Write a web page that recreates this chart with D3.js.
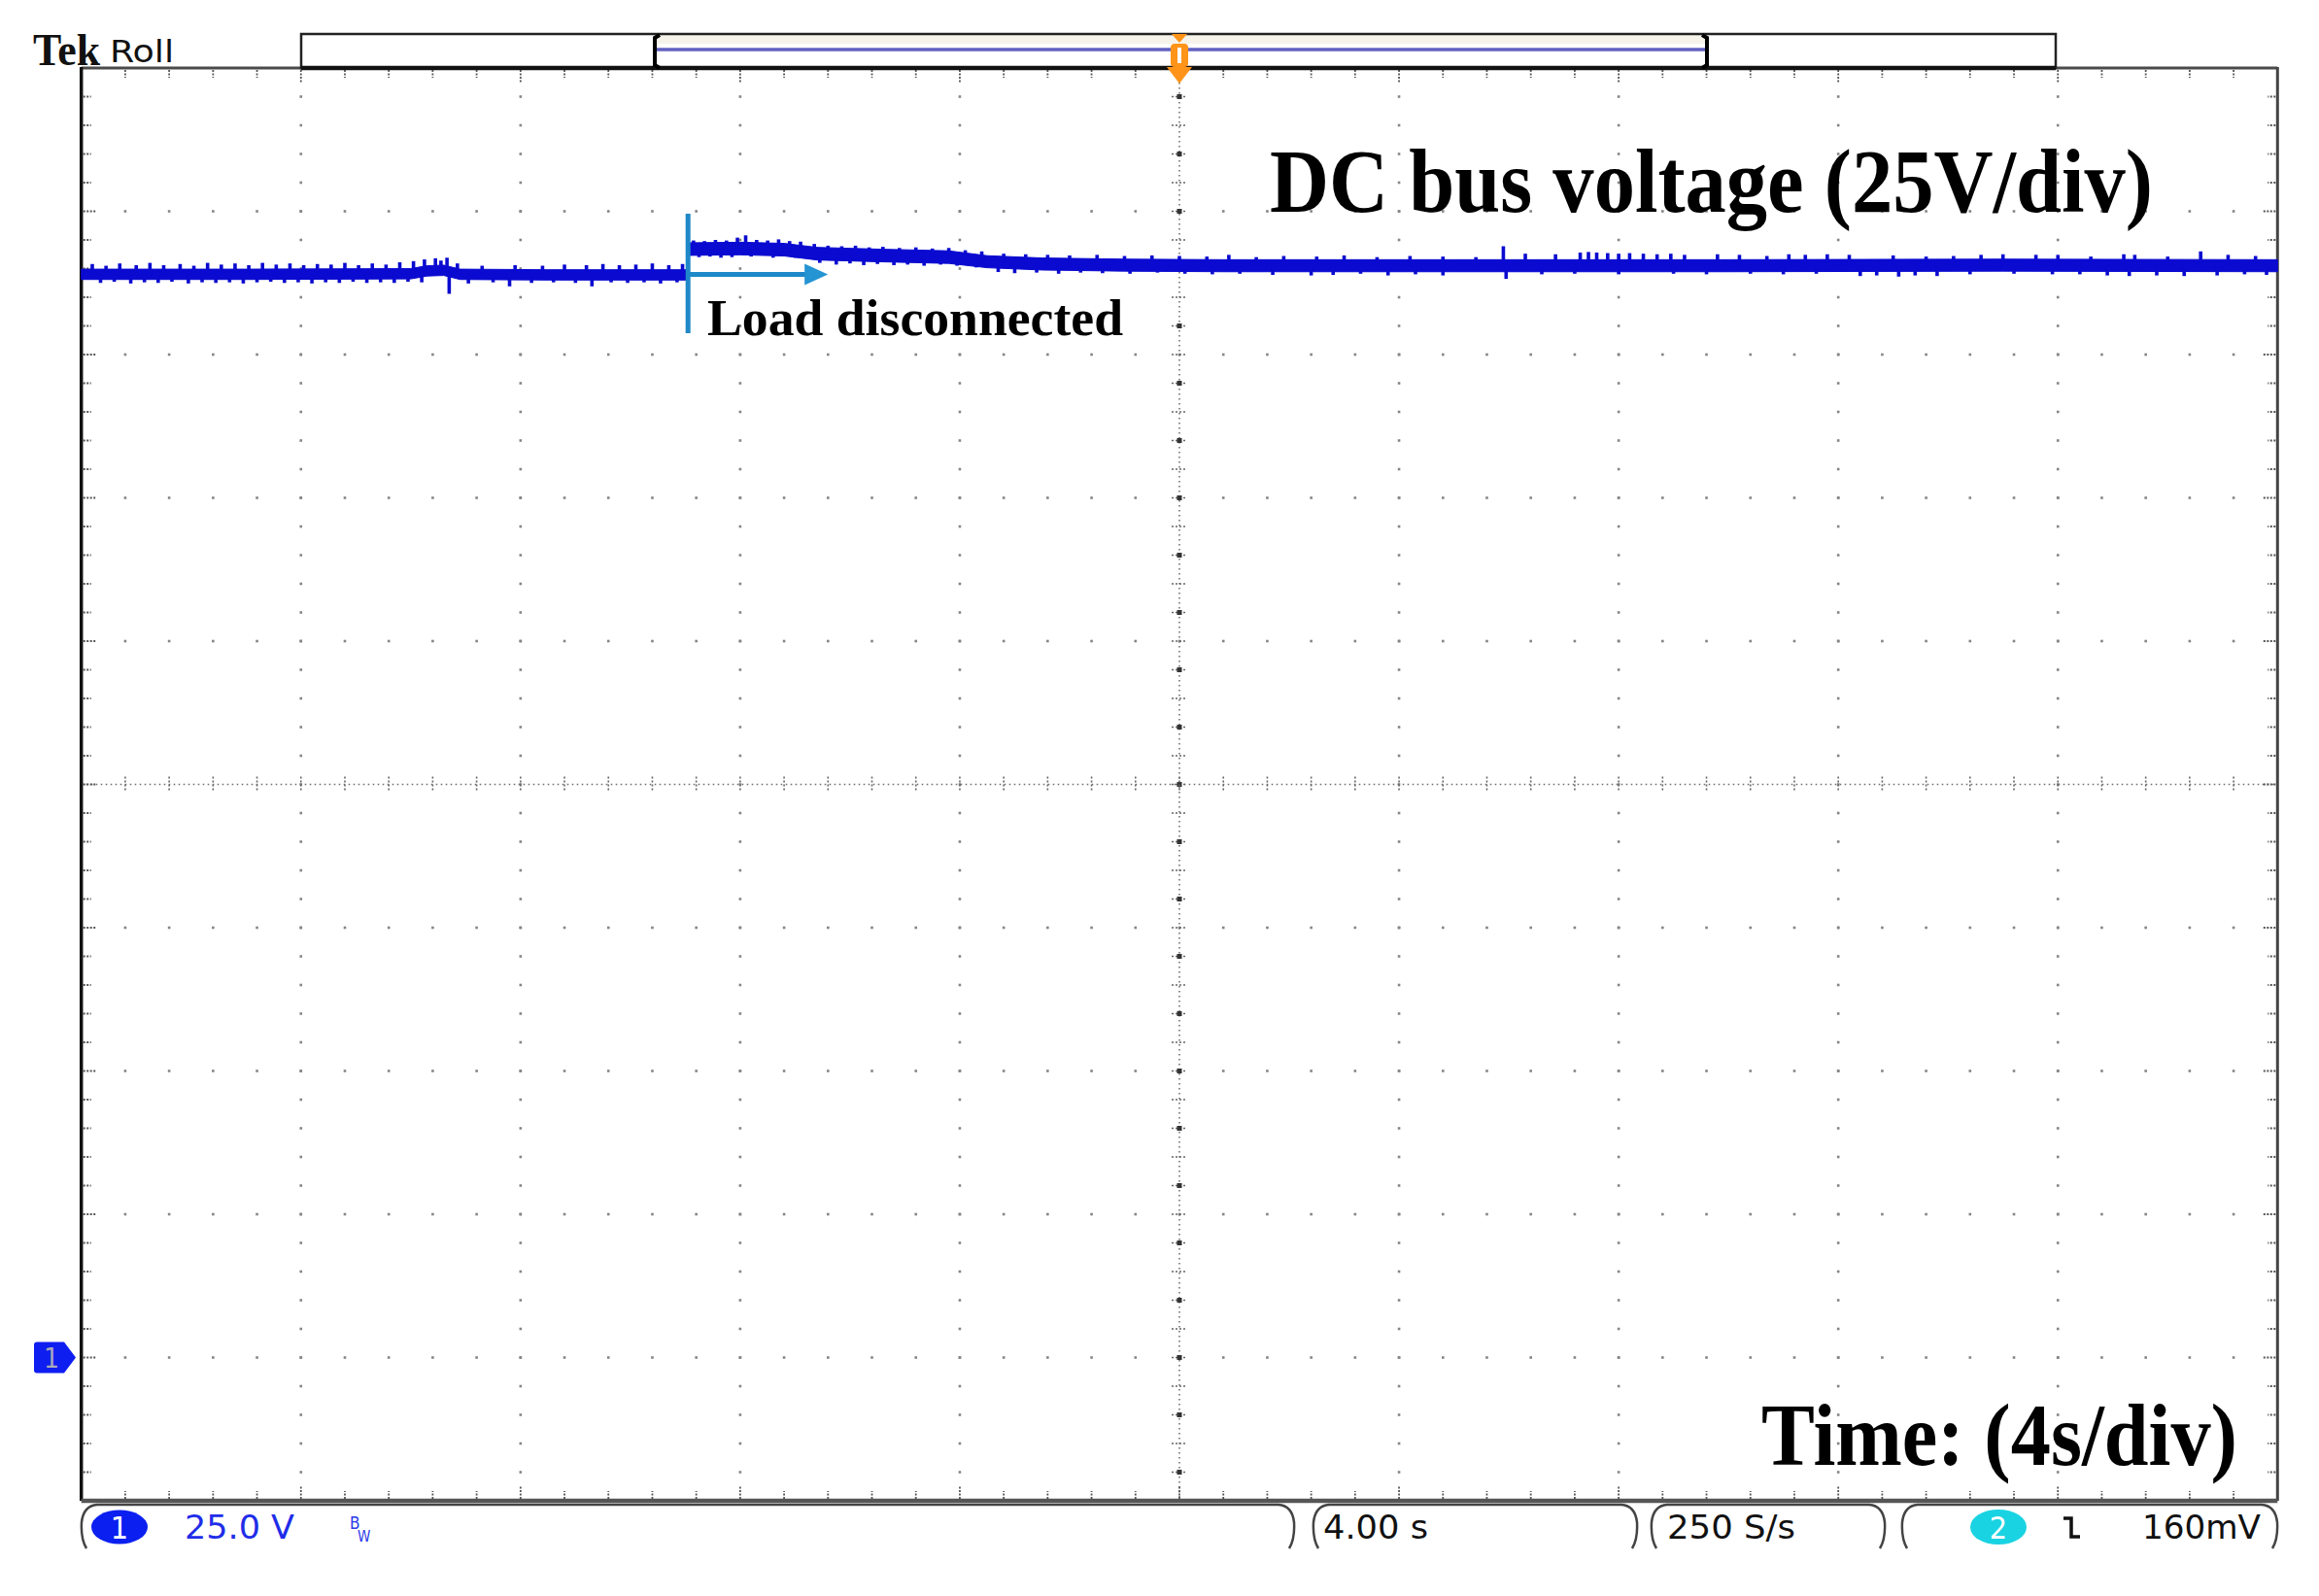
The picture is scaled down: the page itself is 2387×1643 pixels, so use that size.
<!DOCTYPE html>
<html><head><meta charset="utf-8">
<script src="https://cdn.jsdelivr.net/npm/d3@7"></script>
<style>html,body{margin:0;padding:0;background:#fff;overflow:hidden}svg{display:block}</style>
</head><body>
<svg id="c" width="2387" height="1643"></svg>
<script>
// ================= DATA =================
const timeDomain = [0, 40];            // s  (4 s/div, 10 div)
const voltDomain = [-25, 225];         // V  (25 V/div, ground 1 div above bottom)
const timePerDiv = 4, voltPerDiv = 25, minorPerDiv = 5;
const eventTime = 11.05;               // load disconnected

// trace envelope: time (s), lower (V), upper (V)
const traceT  = [0,     3,     6.0,   6.3,   6.6,   6.9,   8.5,   11.04, 11.06,  12.0,   12.8,   13.4,   14.5,   15.8,   16.5,   17.5,   19,     20.8,   25,     30,     35,     40];
const traceLo = [188.1, 188.1, 188.2, 188.7, 188.8, 188.1, 188.0, 188.0, 192.3,  192.4,  192.2,  191.5,  191.2,  190.9,  190.15, 189.75, 189.55, 189.45, 189.45, 189.45, 189.55, 189.45];
const traceHi = [189.9, 189.9, 190.0, 190.5, 190.6, 189.9, 189.8, 189.8, 194.5,  194.6,  194.4,  193.7,  193.4,  193.1,  192.25, 191.85, 191.65, 191.55, 191.55, 191.55, 191.65, 191.55];

// noise spikes: [time (s), peak (V)]
const upSpikes = [
  [0.2,190.8],[0.45,190.5],[0.7,190.9],[1.0,190.6],[1.25,191.0],[1.5,190.6],[1.8,190.8],[2.05,190.5],[2.3,191.0],[2.55,190.7],
  [2.8,190.9],[3.05,190.6],[3.3,191.0],[3.55,190.7],[3.8,190.9],[4.05,190.6],[4.3,190.8],[4.55,190.7],[4.8,191.0],[5.05,190.6],
  [5.3,190.9],[5.55,190.7],[5.8,191.1],[6.05,191.3],[6.25,191.6],[6.45,191.8],[6.55,191.4],[6.66,191.9],[6.85,190.9],[7.3,190.5],
  [7.9,190.6],[8.4,190.5],[8.8,190.7],[9.2,190.6],[9.5,190.8],[9.8,190.6],[10.1,190.7],[10.4,190.9],[10.7,190.6],[10.95,190.8],
  [11.15,194.9],[11.35,194.8],[11.55,195.0],[11.75,194.9],[11.95,195.4],[12.1,195.8],[12.3,195.0],[12.5,194.9],[12.7,195.1],[12.9,194.8],
  [13.1,194.7],[13.35,194.3],[13.6,194.0],[13.85,193.9],[14.1,194.0],[14.35,193.7],[14.6,193.8],[14.9,193.6],[15.2,193.7],[15.5,193.5],
  [15.8,193.6],[16.1,193.2],[16.4,193.0],[16.8,192.6],[17.2,192.5],[17.6,192.4],[18.0,192.3],[18.5,192.4],[19.0,192.2],[19.5,192.3],
  [20.0,192.2],[20.5,192.1],[20.9,192.4],[21.4,192.0],[21.9,192.2],[22.5,192.1],[23.0,192.3],[23.6,192.0],[24.2,192.2],[24.8,192.1],
  [25.4,192.0],[25.9,193.9],[26.3,192.6],[26.85,192.5],[27.3,192.8],[27.45,192.9],[27.6,192.8],[27.8,192.7],[28.0,192.6],[28.2,192.7],
  [28.45,192.6],[28.7,192.5],[28.95,192.6],[29.2,192.4],[29.8,192.5],[30.2,192.4],[30.7,192.2],[31.1,192.5],[31.4,192.4],[31.8,192.5],
  [32.2,192.4],[33.0,192.3],[33.6,192.1],[34.1,192.2],[34.6,192.4],[35.0,192.5],[35.6,192.4],[36.0,192.4],[36.6,192.1],[37.2,192.5],
  [37.4,192.4],[38.0,192.1],[38.6,193.0],[39.1,192.4],[39.6,192.2]
];
const downSpikes = [
  [0.35,187.5],[0.6,187.7],[0.9,187.4],[1.15,187.6],[1.4,187.5],[1.65,187.7],[1.95,187.4],[2.2,187.6],[2.45,187.5],[2.7,187.6],
  [2.95,187.4],[3.2,187.6],[3.45,187.7],[3.7,187.5],[3.95,187.6],[4.2,187.4],[4.45,187.6],[4.7,187.5],[4.95,187.7],[5.2,187.5],
  [5.45,187.6],[5.7,187.5],[5.95,187.7],[6.2,187.6],[6.7,185.6],[7.05,187.4],[7.5,187.6],[7.8,186.9],[8.2,187.5],[8.6,187.6],
  [9.0,187.5],[9.3,186.9],[9.65,187.6],[9.95,187.5],[10.25,187.6],[10.55,187.4],[10.85,187.6],
  [11.25,192.0],[11.45,192.1],[11.65,191.9],[11.85,192.0],[12.2,192.1],[12.6,191.9],[13.0,191.9],[13.45,191.0],[13.75,190.7],[14.0,190.9],
  [14.25,190.6],[14.5,190.8],[14.8,190.6],[15.05,190.7],[15.35,190.5],[15.65,190.7],[15.95,190.5],[16.3,190.2],[16.7,189.4],[17.0,189.2],
  [17.4,189.3],[17.8,189.1],[18.2,189.3],[18.6,189.2],[19.1,189.1],[19.6,189.3],[20.1,189.1],
  [20.6,189.0],[21.1,189.1],[21.7,188.9],[22.4,188.8],[22.8,188.9],[23.3,189.1],[23.8,188.8],[24.3,189.0],[24.8,188.8],[25.95,188.2],
  [26.6,189.0],[27.2,189.1],[28.0,189.0],[29.0,189.1],[29.6,189.0],[30.4,189.1],[31.0,189.0],[31.6,189.1],[32.4,188.7],[32.7,188.8],
  [33.1,188.6],[33.4,188.8],[33.8,188.7],[34.4,189.0],[35.2,189.1],[35.9,189.0],[36.4,189.0],[36.9,188.8],[37.3,188.7],[37.8,188.8],
  [38.3,188.7],[38.9,188.8],[39.4,189.0],[39.8,188.9]
];

// status bar labels
const ch1Label = "1", ch1Scale = "25.0 V";
const timeLabel = "4.00 s", rateLabel = "250 S/s";
const trigChLabel = "2", trigLevel = "160mV";

// ================= LAYOUT =================
const svg = d3.select("#c");
const L = 83.7, R = 2344.3, T = 70, B = 1545;
const x = d3.scaleLinear().domain(timeDomain).range([L, R]);
const y = d3.scaleLinear().domain(voltDomain).range([B, T]);

const minorT = d3.range(timeDomain[0], timeDomain[1] + 1e-6, timePerDiv / minorPerDiv);
const minorV = d3.range(voltDomain[0], voltDomain[1] + 1e-6, voltPerDiv / minorPerDiv);
const majorT = d3.range(timeDomain[0], timeDomain[1] + 1e-6, timePerDiv);
const majorV = d3.range(voltDomain[0], voltDomain[1] + 1e-6, voltPerDiv);
const midT = (timeDomain[0] + timeDomain[1]) / 2, midV = (voltDomain[0] + voltDomain[1]) / 2;
const isMajor = (v, step, o) => Math.abs(((v - o) / step) - Math.round((v - o) / step)) < 1e-6;

// ---- graticule ----
const g = svg.append("g");
const dotC = "#858585";
majorT.slice(1, -1).filter(t => Math.abs(t - midT) > 1e-6).forEach(t => {
  minorV.slice(1, -1).forEach(v => {
    g.append("rect").attr("x", x(t) - 1.3).attr("y", y(v) - 1.3).attr("width", 2.6).attr("height", 2.6).attr("fill", dotC);
  });
});
majorV.slice(1, -1).filter(v => Math.abs(v - midV) > 1e-6).forEach(v => {
  minorT.slice(1, -1).forEach(t => {
    g.append("rect").attr("x", x(t) - 1.3).attr("y", y(v) - 1.3).attr("width", 2.6).attr("height", 2.6).attr("fill", dotC);
  });
});
g.append("line").attr("x1", x(midT)).attr("x2", x(midT)).attr("y1", T).attr("y2", B)
  .attr("stroke", "#707070").attr("stroke-width", 1.6).attr("stroke-dasharray", "1.6 3.4");
g.append("line").attr("x1", L).attr("x2", R).attr("y1", y(midV)).attr("y2", y(midV))
  .attr("stroke", "#707070").attr("stroke-width", 1.6).attr("stroke-dasharray", "1.6 3.4");
minorV.slice(1, -1).forEach((v, i) => {
  g.append("line").attr("x1", x(midT) - 8).attr("x2", x(midT) + 8).attr("y1", y(v)).attr("y2", y(v))
    .attr("stroke", "#666").attr("stroke-width", 1.6).attr("stroke-dasharray", "2 2");
  if (i % 2 === 0) g.append("rect").attr("x", x(midT) - 2.5).attr("y", y(v) - 2.5).attr("width", 5).attr("height", 5).attr("fill", "#333");
});
minorT.slice(1, -1).forEach(t => {
  g.append("line").attr("x1", x(t)).attr("x2", x(t)).attr("y1", y(midV) - 8).attr("y2", y(midV) + 8)
    .attr("stroke", "#666").attr("stroke-width", 1.6).attr("stroke-dasharray", "2 2");
});
minorT.slice(1, -1).forEach(t => {
  const len = isMajor(t, timePerDiv, 0) ? 13 : 8;
  g.append("line").attr("x1", x(t)).attr("x2", x(t)).attr("y1", T + 2).attr("y2", T + 2 + len)
    .attr("stroke", "#555").attr("stroke-width", 1.8).attr("stroke-dasharray", "2 1.5");
  g.append("line").attr("x1", x(t)).attr("x2", x(t)).attr("y1", B - 2).attr("y2", B - 2 - len)
    .attr("stroke", "#555").attr("stroke-width", 1.8).attr("stroke-dasharray", "2 1.5");
});
minorV.slice(1, -1).forEach(v => {
  const len = isMajor(v, voltPerDiv, voltDomain[0]) ? 13 : 8;
  g.append("line").attr("x1", L + 2).attr("x2", L + 2 + len).attr("y1", y(v)).attr("y2", y(v))
    .attr("stroke", "#555").attr("stroke-width", 1.8).attr("stroke-dasharray", "2 1.5");
  g.append("line").attr("x1", R - 2).attr("x2", R - 2 - len).attr("y1", y(v)).attr("y2", y(v))
    .attr("stroke", "#555").attr("stroke-width", 1.8).attr("stroke-dasharray", "2 1.5");
});

// ---- frame ----
svg.append("line").attr("x1", L).attr("x2", R).attr("y1", T).attr("y2", T).attr("stroke", "#4a4a4a").attr("stroke-width", 3);
svg.append("line").attr("x1", L).attr("x2", L).attr("y1", T - 1).attr("y2", B).attr("stroke", "#111").attr("stroke-width", 3.5);
svg.append("line").attr("x1", R).attr("x2", R).attr("y1", T - 1).attr("y2", B).attr("stroke", "#444").attr("stroke-width", 3);
svg.append("line").attr("x1", L).attr("x2", R).attr("y1", B).attr("y2", B).attr("stroke", "#555").attr("stroke-width", 4.5);

// ---- record bar ----
const barL = 310, barR = 2116, barT = 35;
const viewL = 674, viewR = 1757;
svg.append("rect").attr("x", viewL).attr("y", barT).attr("width", viewR - viewL).attr("height", 10).attr("fill", "#f6f3ea");
svg.append("rect").attr("x", barL).attr("y", barT).attr("width", barR - barL).attr("height", T - barT)
  .attr("fill", "none").attr("stroke", "#222").attr("stroke-width", 2.5);
svg.append("line").attr("x1", barL).attr("x2", barR).attr("y1", T).attr("y2", T).attr("stroke", "#111").attr("stroke-width", 4.5);
svg.append("line").attr("x1", viewL).attr("x2", viewR).attr("y1", 51).attr("y2", 51).attr("stroke", "#6262c2").attr("stroke-width", 3.5);
svg.append("path").attr("d", `M${viewL + 5},${barT + 1} L${viewL},${barT + 4} L${viewL},${T - 3} L${viewL + 5},${T}`)
  .attr("fill", "none").attr("stroke", "#000").attr("stroke-width", 4);
svg.append("path").attr("d", `M${viewR - 5},${barT + 1} L${viewR},${barT + 4} L${viewR},${T - 3} L${viewR - 5},${T}`)
  .attr("fill", "none").attr("stroke", "#000").attr("stroke-width", 4);
const tx = x(midT), orange = "#ff9418";
svg.append("polygon").attr("points", `${tx - 8},${barT} ${tx + 8},${barT} ${tx},${barT + 9}`).attr("fill", orange);
svg.append("rect").attr("x", tx - 9).attr("y", 45).attr("width", 18).attr("height", 24).attr("rx", 4).attr("fill", orange);
svg.append("rect").attr("x", tx - 2).attr("y", 49).attr("width", 4).attr("height", 16).attr("fill", "#fff");
svg.append("polygon").attr("points", `${tx - 13},${T - 1} ${tx + 13},${T - 1} ${tx},${T + 16}`).attr("fill", orange);

// ---- Tek Roll ----
svg.append("text").attr("x", 34).attr("y", 67).text("Tek")
  .attr("font-family", "'Liberation Serif','Times New Roman',serif").attr("font-weight", "bold")
  .attr("font-size", 46).attr("textLength", 69).attr("lengthAdjust", "spacingAndGlyphs").attr("fill", "#111");
svg.append("text").attr("x", 113).attr("y", 64).text("Roll")
  .attr("font-family", "'DejaVu Sans Condensed','DejaVu Sans',sans-serif")
  .attr("font-size", 32).attr("textLength", 66).attr("lengthAdjust", "spacingAndGlyphs").attr("fill", "#111");

// ---- trace ----
const traceColor = "#0a0ad0";
const env = traceT.map((t, i) => ({t, lo: traceLo[i], hi: traceHi[i]}));
const midScale = d3.scaleLinear().domain(traceT).range(traceT.map((t, i) => (traceLo[i] + traceHi[i]) / 2));
svg.append("path").datum(env)
  .attr("d", d3.area().x(d => x(d.t)).y0(d => y(d.lo)).y1(d => y(d.hi)))
  .attr("fill", traceColor).attr("stroke", traceColor).attr("stroke-width", 1);
const spikes = upSpikes.concat(downSpikes);
svg.append("g").selectAll("line").data(spikes)
  .join("line").attr("x1", d => x(d[0])).attr("x2", d => x(d[0])).attr("y1", d => y(midScale(d[0]))).attr("y2", d => y(d[1]))
  .attr("stroke", traceColor).attr("stroke-width", 3.6);

// ---- event annotation ----
const ann = "#1f88c8", ex = x(eventTime), ay = y(189);
svg.append("line").attr("x1", ex).attr("x2", ex).attr("y1", 220).attr("y2", 343).attr("stroke", ann).attr("stroke-width", 5);
svg.append("line").attr("x1", ex).attr("x2", ex + 122).attr("y1", ay).attr("y2", ay).attr("stroke", ann).attr("stroke-width", 5);
svg.append("polygon").attr("points", `${ex + 120},${ay - 11} ${ex + 144},${ay} ${ex + 120},${ay + 11}`).attr("fill", "#2494d2");

const serif = "'Liberation Serif','Times New Roman',serif";
svg.append("text").attr("x", 728).attr("y", 345).text("Load disconnected")
  .attr("font-family", serif).attr("font-weight", "bold").attr("font-size", 52)
  .attr("textLength", 428).attr("lengthAdjust", "spacingAndGlyphs").attr("fill", "#000");
svg.append("text").attr("x", 1307).attr("y", 218).text("DC bus voltage (25V/div)")
  .attr("font-family", serif).attr("font-weight", "bold").attr("font-size", 94)
  .attr("textLength", 909).attr("lengthAdjust", "spacingAndGlyphs").attr("fill", "#000");
svg.append("text").attr("x", 1813).attr("y", 1508).text("Time: (4s/div)")
  .attr("font-family", serif).attr("font-weight", "bold").attr("font-size", 90)
  .attr("textLength", 490).attr("lengthAdjust", "spacingAndGlyphs").attr("fill", "#000");

// ---- channel 1 ground marker ----
const gy = y(0);
svg.append("path").attr("d", `M38,${gy - 16} L66,${gy - 16} L78,${gy} L66,${gy + 16} L38,${gy + 16} Q35,${gy + 16} 35,${gy + 13} L35,${gy - 13} Q35,${gy - 16} 38,${gy - 16} Z`)
  .attr("fill", "#0f1ef0");
svg.append("text").attr("x", 53).attr("y", gy + 10).attr("text-anchor", "middle").text(ch1Label)
  .attr("font-family", "'DejaVu Sans Condensed',sans-serif").attr("font-size", 28).attr("fill", "#a8a8b8");

// ---- status bar ----
const sbT = 1549, sbB = 1594, sans = "'DejaVu Sans Condensed','DejaVu Sans',sans-serif";
function seg(a, b) {
  svg.append("path").attr("d", `M${a + 3},${sbB} Q${a - 3},${sbB - 10} ${a - 2},${sbT + 18} Q${a},${sbT + 1} ${a + 14},${sbT} L${b - 14},${sbT} Q${b},${sbT + 1} ${b + 2},${sbT + 18} Q${b + 3},${sbB - 10} ${b - 3},${sbB}`)
    .attr("fill", "none").attr("stroke", "#444").attr("stroke-width", 2.5);
}
seg(86, 1330); seg(1354, 1683); seg(1702, 1938); seg(1960, 2342);
svg.append("ellipse").attr("cx", 123).attr("cy", 1572).attr("rx", 29).attr("ry", 17.5).attr("fill", "#0b1ff0");
svg.append("text").attr("x", 123).attr("y", 1584).attr("text-anchor", "middle").text(ch1Label)
  .attr("font-family", sans).attr("font-size", 32).attr("fill", "#fff");
svg.append("text").attr("x", 190).attr("y", 1584).text(ch1Scale)
  .attr("font-family", sans).attr("font-size", 34).attr("textLength", 113).attr("lengthAdjust", "spacingAndGlyphs").attr("fill", "#1f2de8");
svg.append("text").attr("x", 360).attr("y", 1574).text("B").attr("font-family", sans).attr("font-size", 17).attr("fill", "#2a3ae8");
svg.append("text").attr("x", 368).attr("y", 1587).text("W").attr("font-family", sans).attr("font-size", 15).attr("fill", "#2a3ae8");
svg.append("text").attr("x", 1362).attr("y", 1584).text(timeLabel)
  .attr("font-family", sans).attr("font-size", 34).attr("textLength", 108).attr("lengthAdjust", "spacingAndGlyphs").attr("fill", "#111");
svg.append("text").attr("x", 1716).attr("y", 1584).text(rateLabel)
  .attr("font-family", sans).attr("font-size", 34).attr("textLength", 132).attr("lengthAdjust", "spacingAndGlyphs").attr("fill", "#111");
svg.append("ellipse").attr("cx", 2057).attr("cy", 1572).attr("rx", 29).attr("ry", 18).attr("fill", "#19d3e2");
svg.append("text").attr("x", 2057).attr("y", 1584).attr("text-anchor", "middle").text(trigChLabel)
  .attr("font-family", sans).attr("font-size", 32).attr("fill", "#fff");
svg.append("path").attr("d", "M2124,1563 L2132,1563 L2132,1582 L2141,1582").attr("fill", "none").attr("stroke", "#111").attr("stroke-width", 3.5);
svg.append("text").attr("x", 2205).attr("y", 1584).text(trigLevel)
  .attr("font-family", sans).attr("font-size", 34).attr("textLength", 122).attr("lengthAdjust", "spacingAndGlyphs").attr("fill", "#111");
</script>
</body></html>
